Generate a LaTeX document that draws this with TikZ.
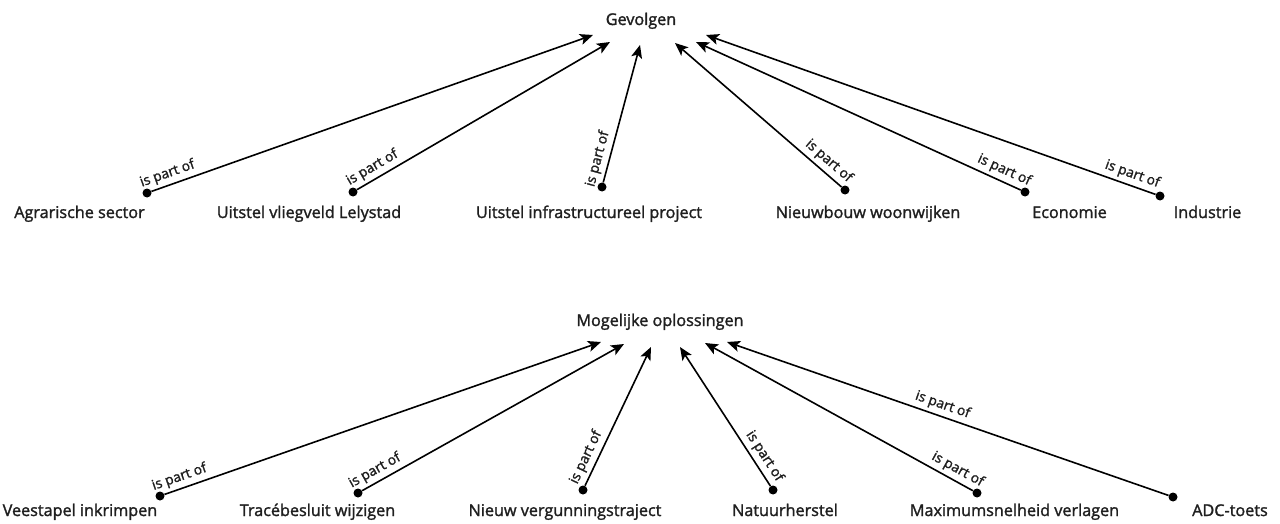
\documentclass[tikz,border=0pt]{standalone}
\usepackage{fontspec}
\setmainfont{Open Sans}[FakeBold=1.6]
\usetikzlibrary{arrows.meta}
\begin{document}
\begin{tikzpicture}[x=1pt,y=-1pt,
  lbl/.style={font=\fontsize{16.2}{20}\selectfont, anchor=base, inner sep=0pt, text=black!88},
  dot/.style={circle, fill=black, inner sep=0pt, minimum size=9pt},
  conn/.style={line width=1.6pt, -{Stealth[length=13pt,width=11pt,inset=3pt]}},
  rel/.style={font=\fontsize{13.8}{16}\selectfont, sloped, above, inner sep=3.5pt, text=black!88}
]
\useasboundingbox (0,0) rectangle (1280,524);

% titles
\node[lbl] (gev) at (641,25) {Gevolgen};
\node[lbl] (mog) at (660,326) {Mogelijke oplossingen};

% top row
\node[lbl] (a1) at (79.5,218) {Agrarische sector};
\node[lbl] (a2) at (309,218) {Uitstel vliegveld Lelystad};
\node[lbl] (a3) at (589,218) {Uitstel infrastructureel project};
\node[lbl] (a4) at (868,218) {Nieuwbouw woonwijken};
\node[lbl] (a5) at (1069.5,218) {Economie};
\node[lbl] (a6) at (1207.5,218) {Industrie};

\node[dot] (d1) at (147,193) {};
\node[dot] (d2) at (353,192) {};
\node[dot] (d3) at (602,187) {};
\node[dot] (d4) at (845,190) {};
\node[dot] (d5) at (1025,192) {};
\node[dot] (d6) at (1160,196) {};

\coordinate (t1) at (593,35);
\coordinate (t2) at (610,42);
\coordinate (t3) at (640,45);
\coordinate (t4) at (675,43);
\coordinate (t5) at (696,42);
\coordinate (t6) at (706,35);

\draw[conn] (d1) -- node[rel, pos=0.045] {is part of} (t1);
\draw[conn] (d2) -- node[rel, pos=0.083] {is part of} (t2);
\draw[conn] (d3) -- node[rel, pos=0.15] {is part of} (t3);
\draw[conn] (d4) -- node[rel, pos=0.12] {is part of} (t4);
\draw[conn] (d5) -- node[rel, pos=0.065] {is part of} (t5);
\draw[conn] (d6) -- node[rel, pos=0.06] {is part of} (t6);

% bottom row
\node[lbl] (c1) at (80,516) {Veestapel inkrimpen};
\node[lbl] (c2) at (317.5,516) {Tracébesluit wijzigen};
\node[lbl] (c3) at (565,516) {Nieuw vergunningstraject};
\node[lbl] (c4) at (785,516) {Natuurherstel};
\node[lbl] (c5) at (1014.5,516) {Maximumsnelheid verlagen};
\node[lbl] (c6) at (1230,516) {ADC-toets};

\node[dot] (e1) at (160,496) {};
\node[dot] (e2) at (358,493) {};
\node[dot] (e3) at (583,490) {};
\node[dot] (e4) at (773,490) {};
\node[dot] (e5) at (977,493) {};
\node[dot] (e6) at (1173,497) {};

\coordinate (u1) at (601,342);
\coordinate (u2) at (624,344);
\coordinate (u3) at (651,347);
\coordinate (u4) at (680,347);
\coordinate (u5) at (705,343);
\coordinate (u6) at (727,342);

\draw[conn] (e1) -- node[rel, pos=0.043] {is part of} (u1);
\draw[conn] (e2) -- node[rel, pos=0.07] {is part of} (u2);
\draw[conn] (e3) -- node[rel, pos=0.17] {is part of} (u3);
\draw[conn] (e4) -- node[rel, pos=0.17] {is part of} (u4);
\draw[conn] (e5) -- node[rel, pos=0.077] {is part of} (u5);
\draw[conn] (e6) -- node[rel, pos=0.52] {is part of} (u6);
\end{tikzpicture}
\end{document}
